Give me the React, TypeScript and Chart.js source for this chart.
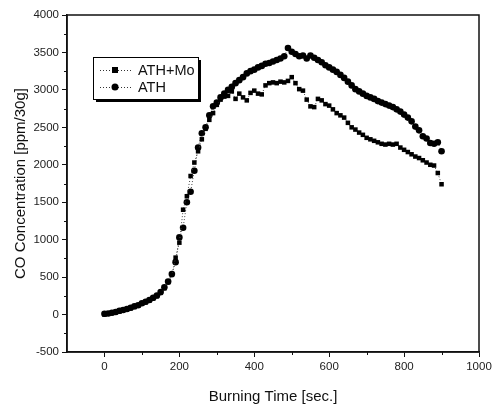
import React, { useEffect, useRef } from "react";
import { Chart, registerables } from "chart.js";

Chart.register(...registerables);

const times = [
  0, 10, 20, 30, 40, 50, 60, 70, 80, 90,
  100, 110, 120, 130, 140, 150, 160, 170, 180, 190,
  200, 210, 220, 230, 240, 250, 260, 270, 280, 290,
  300, 310, 320, 330, 340, 350, 360, 370, 380, 390,
  400, 410, 420, 430, 440, 450, 460, 470, 480, 490,
  500, 510, 520, 530, 540, 550, 560, 570, 580, 590,
  600, 610, 620, 630, 640, 650, 660, 670, 680, 690,
  700, 710, 720, 730, 740, 750, 760, 770, 780, 790,
  800, 810, 820, 830, 840, 850, 860, 870, 880, 890,
  900,
];

const athMo = [
  0, 10, 20, 30, 40, 60, 70, 85, 100, 120,
  145, 165, 190, 215, 245, 290, 350, 430, 530, 760,
  960, 1400, 1580, 1850, 2030, 2180, 2340, 2480, 2600, 2690,
  2800, 2870, 2910, 2920, 2980, 2880, 2950, 2900, 2860, 2960,
  2990, 2950, 2940, 3060, 3090, 3100, 3090, 3110, 3100, 3120,
  3170, 3090, 3010, 2990, 2870, 2780, 2770, 2880, 2860, 2810,
  2790, 2740, 2690, 2660, 2630, 2560, 2500, 2470, 2430, 2400,
  2360, 2340, 2320, 2300, 2280, 2270, 2280, 2270, 2280, 2230,
  2200, 2170, 2140, 2110, 2090, 2060, 2030, 2000, 1990, 1890,
  1740,
];

const ath = [
  10, 15, 25, 35, 50, 60, 75, 90, 110, 125,
  150, 170, 195, 225, 255, 300, 365, 440, 540, 700,
  1030, 1160, 1500, 1640, 1920, 2230, 2420, 2500, 2660, 2780,
  2830, 2900, 2950, 3000, 3040, 3090, 3130, 3170, 3220, 3250,
  3270, 3300, 3320, 3350, 3360, 3380, 3400, 3420, 3450, 3560,
  3510, 3480, 3450, 3460, 3420, 3460, 3430, 3400, 3370, 3330,
  3300, 3270, 3240, 3200, 3160, 3110, 3060, 3010, 2980, 2950,
  2920, 2900, 2880, 2850, 2830, 2810, 2790, 2770, 2740, 2710,
  2670, 2630, 2580, 2510, 2460, 2380, 2350, 2290, 2280, 2300,
  2180,
];

const seriesNames = ["ATH+Mo", "ATH"];
const xTickValues = [0, 200, 400, 600, 800, 1000];
const xMinorValues = [100, 300, 500, 700, 900];
const yMinorValues = [-250, 250, 750, 1250, 1750, 2250, 2750, 3250, 3750];

const FONT = "'Liberation Sans', Arial, sans-serif";

const framePlugin = {
  id: "frame",
  afterDraw(chart: any) {
    const { ctx, chartArea: a, scales } = chart;
    ctx.save();
    ctx.strokeStyle = "#111";
    ctx.lineWidth = 1.5;
    ctx.strokeRect(a.left, a.top, a.right - a.left, a.bottom - a.top);
    // minor ticks
    ctx.lineWidth = 1;
    ctx.beginPath();
    xMinorValues.forEach((v) => {
      const px = Math.round(scales.x.getPixelForValue(v)) + 0.5;
      ctx.moveTo(px, a.bottom);
      ctx.lineTo(px, a.bottom + 3);
    });
    yMinorValues.forEach((v) => {
      const py = Math.round(scales.y.getPixelForValue(v)) + 0.5;
      ctx.moveTo(a.left, py);
      ctx.lineTo(a.left - 3, py);
    });
    ctx.stroke();

    // legend
    const bx = a.left + 26;
    const by = a.top + 42;
    const bw = 105;
    const bh = 42;
    ctx.fillStyle = "#000";
    ctx.fillRect(bx + 3, by + 3, bw, bh);
    ctx.fillStyle = "#fff";
    ctx.fillRect(bx, by, bw, bh);
    ctx.strokeStyle = "#000";
    ctx.lineWidth = 1;
    ctx.strokeRect(bx + 0.5, by + 0.5, bw, bh);
    const rows = [by + 13, by + 30];
    rows.forEach((ry, i) => {
      ctx.save();
      ctx.setLineDash([1, 2]);
      ctx.strokeStyle = "#333";
      ctx.beginPath();
      ctx.moveTo(bx + 7, ry + 0.5);
      ctx.lineTo(bx + 38, ry + 0.5);
      ctx.stroke();
      ctx.restore();
      ctx.fillStyle = "#000";
      if (i === 0) {
        ctx.fillRect(bx + 19, ry - 3, 6, 6);
      } else {
        ctx.beginPath();
        ctx.arc(bx + 22, ry, 3.5, 0, Math.PI * 2);
        ctx.fill();
      }
      ctx.fillStyle = "#111";
      ctx.font = `14.5px ${FONT}`;
      ctx.textBaseline = "middle";
      ctx.textAlign = "left";
      ctx.fillText(seriesNames[i], bx + 45, ry + 1);
    });
    ctx.restore();
  },
};

export default function App() {
  const ref = useRef<HTMLCanvasElement>(null);

  useEffect(() => {
    const canvas = ref.current;
    if (!canvas) return;
    const chart = new Chart(canvas, {
      type: "scatter",
      data: {
        datasets: [
          {
            label: seriesNames[0],
            data: times.map((t, i) => ({ x: t, y: athMo[i] })),
            showLine: true,
            borderColor: "#444",
            borderWidth: 1,
            borderDash: [1, 2],
            pointStyle: "rect",
            pointRadius: 3.2,
            pointBackgroundColor: "#000",
            pointBorderColor: "#000",
            pointBorderWidth: 0,
          },
          {
            label: seriesNames[1],
            data: times.map((t, i) => ({ x: t, y: ath[i] })),
            showLine: true,
            borderColor: "#444",
            borderWidth: 1,
            borderDash: [1, 2],
            pointStyle: "circle",
            pointRadius: 3.3,
            pointBackgroundColor: "#000",
            pointBorderColor: "#000",
            pointBorderWidth: 0,
          },
        ],
      },
      options: {
        animation: false,
        responsive: false,
        maintainAspectRatio: false,
        layout: { padding: { top: 15, right: 16, left: 12, bottom: 0 } },
        plugins: {
          legend: { display: false },
          tooltip: { enabled: false },
        },
        scales: {
          x: {
            type: "linear",
            min: -100,
            max: 1000,
            afterBuildTicks: (axis: any) => {
              axis.ticks = xTickValues.map((v) => ({ value: v }));
            },
            afterFit: (axis: any) => {
              axis.height = 54;
            },
            grid: {
              drawOnChartArea: false,
              drawTicks: true,
              tickLength: 5,
              color: "#111",
            },
            border: { display: true, color: "#111", width: 1.5 },
            ticks: {
              color: "#222",
              font: { family: FONT, size: 11.5 },
              padding: 3,
              maxRotation: 0,
              callback: (v: any) => String(v),
            },
            title: {
              display: true,
              text: "Burning Time [sec.]",
              color: "#111",
              font: { family: FONT, size: 15 },
              padding: { top: 10, bottom: 0 },
            },
          },
          y: {
            type: "linear",
            min: -500,
            max: 4000,
            ticks: {
              stepSize: 500,
              color: "#222",
              font: { family: FONT, size: 11.5 },
              padding: 3,
              callback: (v: any) => String(v),
            },
            afterFit: (axis: any) => {
              axis.width = 55;
            },
            grid: {
              drawOnChartArea: false,
              drawTicks: true,
              tickLength: 5,
              color: "#111",
            },
            border: { display: true, color: "#111", width: 1.5 },
            title: {
              display: true,
              text: "CO Concentration [ppm/30g]",
              color: "#111",
              font: { family: FONT, size: 15 },
              padding: { top: 0, bottom: 4 },
            },
          },
        },
      },
      plugins: [framePlugin],
    });
    return () => chart.destroy();
  }, []);

  return (
    <div style={{ position: "fixed", left: 0, top: 0, width: 495, height: 406, background: "#fff" }}>
      <canvas ref={ref} width={495} height={406} style={{ display: "block" }} />
    </div>
  );
}
